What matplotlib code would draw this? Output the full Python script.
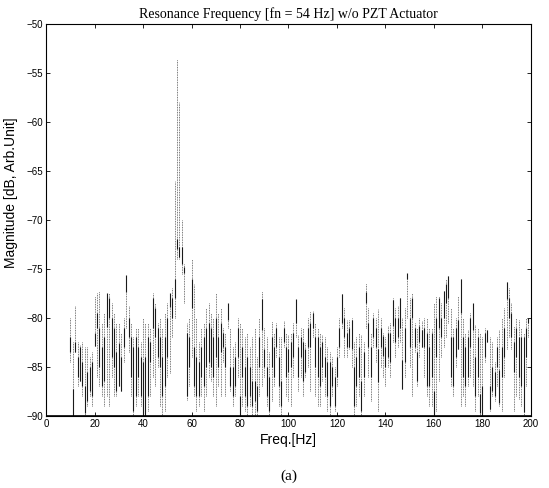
import numpy as np
import matplotlib.pyplot as plt

# Data (one streak per Hz from 10 to 199 Hz)
freq = list(range(10, 200))

top = [
    -80.0, -82.5, -78.8, -82.5, -82.8, -82.5, -83.0, -83.0, -84.0, -83.5,
    -77.8, -77.5, -77.3, -80.5, -79.5, -77.5, -77.5, -78.5, -79.5, -80.5,
    -80.5, -81.5, -80.0, -75.6, -78.8, -80.5, -82.0, -81.0, -81.0, -82.5,
    -80.0, -80.5, -80.5, -81.0, -77.5, -78.5, -80.5, -80.0, -81.0, -79.5,
    -78.5, -77.5, -77.0, -66.0, -53.6, -58.0, -70.0, -74.5, -80.5, -80.0,
    -74.0, -76.5, -80.0, -82.5, -81.0, -80.5, -79.0, -78.5, -79.5, -80.0,
    -77.5, -79.5, -79.0, -81.0, -81.5, -78.5, -81.0, -83.0, -82.5, -80.0,
    -80.5, -81.0, -82.0, -81.5, -83.0, -82.0, -81.0, -84.0, -80.0, -77.3,
    -81.0, -82.0, -83.5, -80.3, -81.5, -80.5, -82.0, -82.0, -80.3, -81.5,
    -81.8, -81.5, -80.5, -78.1, -81.8, -81.0, -81.0, -82.6, -80.0, -79.3,
    -79.3, -80.5, -81.0, -81.5, -81.8, -82.0, -83.0, -83.5, -84.0, -85.0,
    -83.0, -80.0, -77.6, -79.0, -80.2, -80.2, -80.0, -82.5, -82.0, -81.5,
    -81.8, -82.5, -76.4, -79.0, -81.5, -79.5, -80.0, -79.1, -80.0, -81.5,
    -82.0, -80.8, -80.5, -78.0, -79.0, -78.8, -78.0, -80.0, -79.0, -75.4,
    -78.0, -77.5, -80.5, -81.0, -80.0, -80.3, -80.0, -80.0, -81.0, -81.0,
    -78.5, -77.8, -77.8, -78.5, -77.3, -76.0, -75.7, -79.0, -81.0, -80.0,
    -77.8, -76.0, -80.0, -81.5, -81.2, -79.5, -78.5, -80.7, -81.0, -81.5,
    -82.0, -81.0, -81.2, -82.0, -82.5, -84.5, -82.0, -81.2, -80.0, -79.0,
    -76.3, -77.0, -78.5, -80.8, -80.0, -80.2, -81.0, -81.5, -80.0, -80.0,
]

bottom = [
    -84.5, -90.0, -83.5, -87.0, -86.5, -88.0, -90.0, -89.0, -88.0, -89.0,
    -82.9, -86.0, -87.0, -88.0, -89.0, -88.0, -89.0, -86.0, -88.0, -88.0,
    -87.0, -87.5, -84.5, -81.0, -83.5, -88.0, -90.0, -89.0, -88.0, -89.0,
    -90.0, -90.0, -89.5, -88.0, -86.0, -87.0, -85.0, -89.0, -90.0, -89.5,
    -86.0, -85.6, -82.0, -80.0, -74.0, -74.0, -75.5, -78.5, -88.4, -87.0,
    -84.0, -88.0, -89.5, -89.0, -88.0, -89.5, -88.0, -86.0, -86.5, -88.0,
    -89.0, -87.0, -88.0, -84.5, -88.0, -81.0, -87.5, -89.0, -88.0, -86.0,
    -90.0, -89.0, -89.5, -90.0, -89.0, -90.0, -90.0, -90.0, -88.0, -87.0,
    -86.0, -89.0, -90.0, -88.5, -87.0, -84.0, -89.0, -90.0, -83.0, -88.0,
    -88.5, -89.0, -86.0, -82.0, -87.5, -86.0, -88.0, -86.0, -85.0, -87.5,
    -82.0, -88.0, -89.0, -89.0, -86.5, -88.0, -89.5, -90.0, -88.0, -89.5,
    -87.0, -84.0, -81.0, -84.0, -84.0, -83.2, -85.0, -90.0, -89.0, -88.0,
    -90.0, -88.0, -81.0, -86.0, -88.5, -83.0, -84.5, -89.5, -85.0, -86.0,
    -87.0, -85.0, -86.0, -82.5, -84.0, -83.0, -82.5, -87.3, -86.0, -80.0,
    -85.0, -88.0, -83.5, -87.0, -84.0, -83.0, -86.0, -88.0, -89.0, -89.0,
    -90.0, -89.5, -86.5, -84.0, -83.0, -82.0, -80.5, -87.0, -88.0, -85.0,
    -83.2, -89.0, -88.0, -89.0, -87.0, -86.0, -87.0, -89.5, -88.0, -90.0,
    -90.0, -84.5, -82.5, -89.5, -88.0, -88.5, -87.0, -89.0, -89.5, -86.0,
    -83.2, -82.0, -83.2, -89.5, -88.0, -88.3, -89.0, -90.0, -87.0, -82.0,
]

dark_top = [
    -82.0, -87.3, -82.5, -84.0, -83.0, -84.5, -87.0, -85.5, -85.0, -84.5,
    -81.5, -79.5, -81.0, -83.0, -82.0, -77.5, -78.0, -80.0, -81.0, -83.5,
    -82.6, -84.0, -81.0, -75.6, -80.0, -82.0, -83.0, -82.0, -83.0, -84.0,
    -84.5, -84.0, -82.0, -82.5, -78.0, -79.0, -81.0, -82.0, -84.0, -82.0,
    -80.0, -77.5, -78.0, -76.0, -72.0, -72.8, -72.8, -74.8, -81.5, -82.0,
    -76.0, -83.0, -84.0, -84.5, -83.0, -82.0, -81.0, -80.5, -81.0, -82.0,
    -80.0, -82.0, -80.5, -81.5, -83.0, -78.5, -85.0, -85.0, -84.0, -81.0,
    -88.0, -83.0, -85.0, -84.0, -85.0, -86.5, -86.5, -87.0, -82.0, -78.1,
    -83.2, -85.0, -86.0, -82.0, -83.0, -81.0, -84.0, -86.5, -81.0, -83.0,
    -83.2, -82.5, -81.5, -78.1, -83.0, -82.0, -82.5, -83.2, -81.0, -80.5,
    -79.5, -82.0, -82.0, -83.0, -82.5, -84.0, -84.5, -84.5, -85.0, -86.0,
    -84.0, -81.0, -77.6, -80.0, -81.5, -81.0, -80.2, -85.0, -84.0, -83.0,
    -86.5, -83.5, -77.4, -80.5, -83.0, -80.0, -81.0, -83.2, -81.0, -81.9,
    -83.0, -81.5, -81.5, -78.2, -80.0, -80.0, -78.0, -84.3, -81.0, -75.4,
    -80.0, -78.0, -81.0, -83.5, -80.8, -81.2, -81.0, -81.5, -83.0, -81.5,
    -87.5, -80.0, -78.0, -80.0, -77.3, -76.5, -75.7, -82.0, -82.0, -81.0,
    -80.2, -76.0, -82.0, -83.0, -82.0, -80.0, -78.5, -84.0, -82.0, -87.8,
    -87.0, -81.5, -81.2, -87.0, -85.0, -85.5, -83.0, -85.3, -83.0, -81.0,
    -76.3, -78.0, -79.5, -82.5, -81.0, -82.0, -82.0, -82.0, -81.0, -80.0,
]

dark_bot = [
    -83.5, -90.0, -83.5, -86.0, -86.5, -87.0, -89.7, -88.5, -87.5, -88.0,
    -82.9, -81.0, -85.0, -87.0, -86.5, -80.9, -80.0, -84.0, -85.0, -87.5,
    -87.0, -87.5, -83.0, -77.4, -82.0, -86.0, -89.5, -88.0, -86.0, -88.0,
    -90.0, -90.0, -88.0, -84.5, -81.0, -82.0, -84.0, -85.0, -88.0, -87.0,
    -84.0, -78.9, -80.0, -78.0, -73.0, -73.8, -74.5, -75.4, -88.0, -85.0,
    -79.0, -87.0, -88.0, -88.0, -86.0, -87.0, -85.0, -84.5, -85.0, -86.0,
    -84.0, -85.0, -83.5, -83.0, -85.0, -80.2, -87.0, -88.0, -87.0, -84.0,
    -90.0, -86.0, -88.0, -89.0, -88.0, -89.0, -88.5, -89.5, -85.0, -81.2,
    -85.0, -88.0, -89.5, -85.0, -86.0, -83.0, -87.0, -89.0, -82.5, -86.0,
    -85.5, -85.0, -84.0, -80.5, -86.0, -84.0, -86.5, -85.5, -83.0, -83.0,
    -81.0, -85.0, -86.0, -87.0, -85.0, -86.0, -88.0, -89.0, -87.0, -89.0,
    -86.0, -83.0, -80.5, -82.0, -83.0, -83.0, -83.2, -89.0, -87.0, -86.0,
    -89.5, -86.0, -78.5, -83.0, -86.0, -82.0, -83.0, -86.6, -83.0, -83.9,
    -85.0, -84.0, -84.5, -80.8, -82.5, -82.0, -81.0, -87.3, -84.5, -76.0,
    -83.0, -80.0, -83.0, -86.5, -82.5, -83.0, -83.0, -87.0, -87.0, -86.0,
    -90.0, -84.0, -81.0, -82.0, -80.0, -78.5, -78.0, -86.0, -87.0, -84.0,
    -83.2, -79.5, -86.0, -87.0, -86.0, -83.0, -81.2, -88.0, -86.0, -89.7,
    -90.0, -84.0, -82.5, -89.3, -87.5, -88.0, -85.0, -88.7, -86.0, -84.0,
    -78.1, -80.0, -82.0, -85.5, -84.0, -86.0, -87.0, -89.6, -84.0, -80.5,
]

fig = plt.figure(figsize=(5.49, 4.88), dpi=100)
ax = fig.add_axes([0.084, 0.148, 0.883, 0.803])

# light dotted streaks, then the dense dark parts on top
ax.vlines(freq, bottom, top, colors="0.3", linewidth=0.6, linestyles=(0, (1, 1)))
ax.vlines(freq, dark_bot, dark_top, colors="0.1", linewidth=0.8)
ax.plot([0, 200], [-90, -90], color="black", linewidth=1.2)

ax.set_xlim(0, 200)
ax.set_ylim(-90, -50)
ax.set_xticks(np.arange(0, 201, 20))
ax.set_yticks(np.arange(-90, -49, 5))
ax.tick_params(direction="in", top=True, right=True, length=3, width=0.6,
               labelsize=7, pad=2)
for lab in ax.get_xticklabels() + ax.get_yticklabels():
    lab.set_family("Liberation Sans")
for s in ax.spines.values():
    s.set_linewidth(0.8)

ax.set_title("Resonance Frequency [fn = 54 Hz] w/o PZT Actuator",
             family="Liberation Serif", fontsize=10, pad=4)
ax.set_xlabel("Freq.[Hz]", family="Liberation Sans", fontsize=10, labelpad=3)
ax.set_ylabel("Magnitude [dB, Arb.Unit]", family="Liberation Sans", fontsize=10)
ax.yaxis.set_label_coords(-0.058, 0.57)

fig.text(0.526, 0.025, "(a)", family="Liberation Serif", fontsize=11,
         ha="center", va="center")

fig.savefig("out.png", dpi=100)
